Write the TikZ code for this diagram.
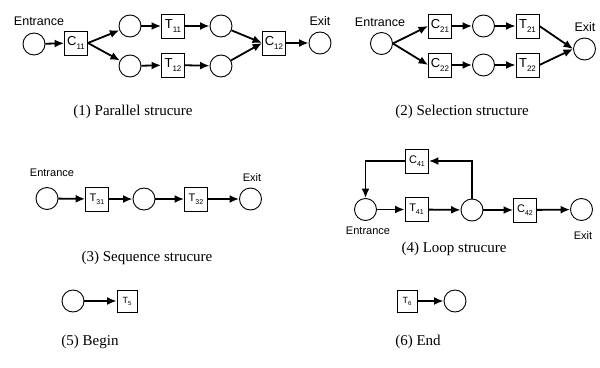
\documentclass[tikz,border=0pt]{standalone}
\usepackage{fontspec}
\setmainfont{Liberation Serif}
\setsansfont{Liberation Sans}
\usetikzlibrary{arrows.meta}

% lowered index for transition names
\newcommand{\idx}[2][8]{\raisebox{-.45ex}{\fontsize{#1}{#1}\selectfont #2}}

\begin{document}
\begin{tikzpicture}[x=1pt,y=-1pt,
  place/.style={circle,draw,line width=.9pt,minimum size=22pt,inner sep=0pt},
  trans/.style={rectangle,draw,line width=.8pt,minimum width=23pt,minimum height=24pt,inner sep=0pt,
    font=\sffamily\fontsize{13}{13}\selectfont},
  smalltrans/.style={trans,font=\sffamily\fontsize{11}{11}\selectfont},
  tinytrans/.style={trans,minimum width=20pt,minimum height=22pt,font=\sffamily\fontsize{9}{9}\selectfont},
  lbl/.style={font=\sffamily\fontsize{12.5}{13}\selectfont,inner sep=0pt},
  smalllbl/.style={font=\sffamily\fontsize{11}{11}\selectfont,inner sep=0pt},
  capt/.style={font=\fontsize{15}{15}\selectfont,inner sep=0pt},
  arc/.style={line width=1.8pt,-{Latex[length=9.5pt,width=8pt]}}]
\useasboundingbox (0,0) rectangle (600,367);

% (1) parallel
\node[place] (p11) at (34,44) {};
\node[lbl] (e1) at (39,21) {Entrance};
\node[trans] (c11) at (76,43) {C\idx{11}};
\node[place] (p12) at (130,26) {};
\node[place] (p13) at (130,66) {};
\node[trans] (t11) at (173,26) {T\idx{11}};
\node[trans] (t12) at (173,65) {T\idx{12}};
\node[place] (p14) at (221,26) {};
\node[place] (p15) at (221,66) {};
\node[trans] (c12) at (274,43) {C\idx{12}};
\node[place] (p16) at (320,43) {};
\node[lbl] (x1) at (320,21) {Exit};
\node[capt] (cap1) at (133,112) {(1) Parallel strucure};
\draw[arc] (p11) -- (c11);
\draw[arc] (c11.east) -- (p12);
\draw[arc] (c11.east) -- (p13);
\draw[arc] (p12) -- (t11);
\draw[arc] (p13) -- (t12);
\draw[arc] (t11) -- (p14);
\draw[arc] (t12) -- (p15);
\draw[arc] (p14) -- (c12.west);
\draw[arc] (p15) -- (c12.west);
\draw[arc] (c12) -- (p16);

% (2) selection
\node[place] (p21) at (381.5,43.5) {};
\node[lbl] (e2) at (380,22) {Entrance};
\node[trans] (c21) at (440,26) {C\idx{21}};
\node[trans] (c22) at (440,65) {C\idx{22}};
\node[place] (p22) at (483.5,26) {};
\node[place] (p23) at (483.5,65) {};
\node[trans] (t21) at (527.5,26) {T\idx{21}};
\node[trans] (t22) at (527.5,65) {T\idx{22}};
\node[place] (p24) at (584.5,49) {};
\node[lbl] (x2) at (585,27) {Exit};
\node[capt] (cap2) at (462,112) {(2) Selection structure};
\draw[arc] (p21.east) -- (c21.west);
\draw[arc] (p21.east) -- (c22.west);
\draw[arc] (c21) -- (p22);
\draw[arc] (c22) -- (p23);
\draw[arc] (p22) -- (t21);
\draw[arc] (p23) -- (t22);
\draw[arc] (t21.east) -- (p24.west);
\draw[arc] (t22.east) -- (p24.west);

% (3) sequence
\node[place] (p31) at (47,198.5) {};
\node[smalllbl] (e3) at (52,173) {Entrance};
\node[smalltrans] (t31) at (97,199) {T\idx[7]{31}};
\node[place] (p32) at (144,199) {};
\node[smalltrans] (t32) at (196,199) {T\idx[7]{32}};
\node[place] (p33) at (250.5,199) {};
\node[smalllbl] (x3) at (252,178) {Exit};
\node[capt] (cap3) at (147,258) {(3) Sequence strucure};
\draw[arc] (p31) -- (t31);
\draw[arc] (t31) -- (p32);
\draw[arc] (p32) -- (t32);
\draw[arc] (t32) -- (p33);

% (4) loop
\node[place] (p41) at (365.5,209.5) {};
\node[smalllbl] (e4) at (368,231) {Entrance};
\node[smalltrans] (t41) at (416.5,209.5) {T\idx[7]{41}};
\node[place] (p42) at (472,210) {};
\node[smalltrans] (c41) at (417,161) {C\idx[7]{41}};
\node[smalltrans] (c42) at (525,210) {C\idx[7]{42}};
\node[place] (p43) at (581.5,209.5) {};
\node[smalllbl] (x4) at (583,236) {Exit};
\node[capt] (cap4) at (454,249) {(4) Loop strucure};
\draw[arc] (p41) -- (t41);
\draw[arc] (t41) -- (p42);
\draw[arc] (p42) -- (c42);
\draw[arc] (c42) -- (p43);
\draw[arc] (p42.north) |- (c41.east);
\draw[arc] (c41.west) -| (p41.north);

% (5) begin and (6) end
\node[place] (p51) at (73,301) {};
\node[tinytrans] (t5) at (127,301) {T\idx[6]{5}};
\node[capt] (cap5) at (90,342) {(5) Begin};
\draw[arc] (p51) -- (t5);

\node[tinytrans] (t6) at (407,301) {T\idx[6]{6}};
\node[place] (p61) at (455,301) {};
\node[capt] (cap6) at (418,342) {(6) End};
\draw[arc] (t6) -- (p61);
\end{tikzpicture}
\end{document}
